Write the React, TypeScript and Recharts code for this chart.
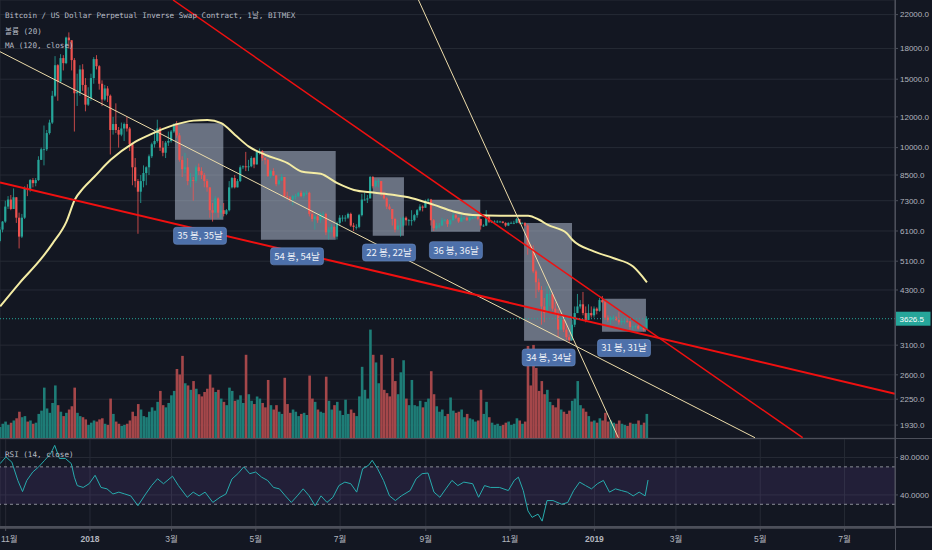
import React from 'react'
import {
  ComposedChart, LineChart, Bar, Line, XAxis, YAxis, CartesianGrid,
  ReferenceArea, ReferenceLine, ReferenceDot, Cell,
} from 'recharts'

const BG = '#131722'
const GRID = '#262a35'
const SEP = '#4c4f5a'
const UP = '#26a69a'
const DOWN = '#ef5350'
const VOL_UP = '#1e7d77'
const VOL_DOWN = '#a5474a'
const TEXT = '#b2b5be'

// x = days from 2018-01-01, 2-day candles starting 2017-10-28
const X0 = -65.1
const X1 = 582.5
const firstDay = -65
const step = 2
const firstOpen = 5750

const closes = [
  6150, 6450, 7050, 7350, 6950, 7450, 6600, 5900, 6600, 7850,
  7800, 8250, 8100, 8250, 9300, 9900, 9900, 10900, 11600, 13600,
  16300, 14800, 17000, 16500, 19200, 18900, 16800, 13800, 13900, 15900,
  14500, 12900, 13400, 15100, 16900, 16200, 14600, 13300, 14200, 13600,
  11100, 11500, 11100, 10800, 11200, 11500, 11200, 10200, 8900, 8200,
  7700, 8200, 8600, 8900, 9500, 10200, 10400, 11200, 10000, 9700,
  10300, 10400, 11000, 11450, 10750, 9300, 8800, 8900, 8200, 8250,
  8200, 8900, 8700, 8500, 8200, 7900, 6900, 6800, 7400, 6800,
  6900, 6750, 6900, 7900, 8350, 7900, 8200, 8900, 8950, 8900,
  8950, 9400, 9050, 9750, 9800, 9400, 9300, 8450, 8700, 8480,
  8050, 8230, 8400, 7500, 7450, 7350, 7500, 7500, 7650, 7500,
  7650, 7650, 6750, 6550, 6650, 6500, 6750, 6750, 6050, 6150,
  6250, 5900, 6400, 6600, 6600, 6600, 6750, 6300, 6250, 6250,
  6700, 7350, 7350, 7400, 8400, 7950, 8200, 8200, 7600, 7400,
  7050, 6950, 6550, 6150, 6300, 6300, 6600, 6500, 6500, 6500,
  6700, 6900, 7050, 7000, 7300, 7350, 6500, 6200, 6300, 6300,
  6500, 6500, 6350, 6500, 6700, 6600, 6450, 6600, 6600, 6500,
  6600, 6600, 6650, 6550, 6300, 6300, 6650, 6450, 6450, 6450,
  6450, 6450, 6400, 6300, 6400, 6400, 6400, 6550, 6400, 6400,
  6300, 5600, 5500, 4800, 4500, 4300, 3900, 3750, 4200, 4200,
  3850, 3750, 3400, 3600, 3400, 3250, 3200, 3500, 3750, 3900,
  3950, 3750, 3600, 3750, 3700, 3850, 3800, 4050, 4000, 3650,
  3600, 3650, 3650, 3600, 3550, 3580, 3580, 3570, 3450, 3460,
  3470, 3420, 3440, 3400, 3626.5,
]

const highs = [
  6250, 6470, 7300, 7500, 7550, 7850, 7450, 6800, 6750, 7950,
  8050, 8300, 8350, 8350, 9500, 10000, 11400, 11100, 11800, 14000,
  17200, 16400, 17400, 17300, 19300, 19800, 18900, 17000, 15500, 16300,
  16400, 15100, 14300, 15500, 17100, 17300, 16300, 14900, 14500, 14400,
  13700, 12000, 13000, 11300, 11600, 11600, 12000, 11300, 10200, 9400,
  8300, 8500, 9000, 8950, 9600, 10300, 11100, 11800, 11300, 10400,
  10400, 11000, 11100, 11550, 11700, 10900, 9500, 9700, 9400, 8600,
  8400, 9000, 9100, 8900, 8600, 8300, 7900, 7200, 7500, 7450,
  7100, 7200, 6950, 8200, 8400, 8500, 8300, 9000, 9000, 9750,
  9300, 9500, 9450, 9800, 9950, 9850, 9450, 9350, 8750, 8850,
  8500, 8280, 8550, 8400, 7700, 7500, 7550, 7600, 7700, 7750,
  7700, 7750, 7700, 6900, 6700, 6700, 6800, 6850, 6800, 6250,
  6350, 6300, 6450, 6700, 6700, 6700, 6800, 6800, 6400, 6350,
  6750, 7600, 7650, 7550, 8450, 8450, 8250, 8300, 8200, 7700,
  7450, 7150, 6950, 6600, 6500, 6600, 6650, 6650, 6550, 6900,
  6750, 6950, 7150, 7100, 7350, 7400, 7380, 6550, 6400, 6400,
  6600, 6550, 6550, 6550, 6800, 6750, 6600, 6750, 6650, 6650,
  6650, 6650, 6700, 6650, 6560, 6350, 6900, 6650, 6500, 6500,
  6500, 6480, 6460, 6420, 6420, 6450, 6480, 6600, 6550, 6420,
  6420, 6350, 5650, 5600, 4850, 4600, 4400, 4100, 4400, 4300,
  4250, 4000, 3850, 3650, 3620, 3500, 3300, 3600, 3900, 4200,
  4050, 4250, 3900, 3950, 3900, 3900, 3880, 4100, 4150, 4050,
  3700, 3680, 3700, 3680, 3780, 3620, 3620, 3650, 3580, 3480,
  3500, 3500, 3470, 3440, 3680,
]

const lows = [
  5700, 6050, 6400, 6950, 6900, 6950, 6400, 5500, 5850, 6550,
  7500, 7700, 7900, 7950, 8200, 9300, 9000, 9800, 10800, 11500,
  13500, 13200, 14700, 15800, 16400, 18000, 15800, 11000, 12800, 13600,
  14000, 12400, 12800, 13200, 14600, 15900, 14100, 12800, 13200, 13100,
  9600, 10800, 10900, 10000, 10700, 10400, 11000, 9800, 8000, 7900,
  6000, 7200, 7900, 8000, 8500, 9400, 10000, 10300, 9800, 9500,
  9400, 10100, 10300, 10900, 10600, 9200, 8400, 8600, 8000, 7900,
  7300, 8100, 8500, 8300, 7900, 7700, 6600, 6450, 6800, 6600,
  6550, 6650, 6700, 6850, 7850, 7850, 7900, 8150, 8800, 8700,
  8700, 8900, 8850, 9050, 9600, 9250, 9050, 8400, 8350, 8450,
  7950, 8000, 8200, 7450, 7350, 7250, 7100, 7350, 7450, 7450,
  7400, 7550, 6650, 6450, 6150, 6400, 6400, 6550, 5950, 5800,
  6050, 5850, 5800, 6300, 6450, 6450, 6550, 6250, 6100, 6150,
  6200, 6650, 7300, 7200, 7400, 7850, 7900, 7900, 7500, 7350,
  6950, 6900, 6300, 6050, 6150, 5900, 6250, 6300, 6300, 6300,
  6450, 6600, 6850, 6850, 7000, 7200, 6300, 6100, 6150, 6200,
  6280, 6450, 6250, 6300, 6480, 6550, 6400, 6450, 6500, 6480,
  6450, 6550, 6550, 6500, 6150, 6250, 6280, 6400, 6400, 6420,
  6400, 6420, 6380, 6250, 6280, 6380, 6350, 6380, 6350, 6350,
  6280, 5300, 5450, 4750, 4100, 4250, 3500, 3550, 3750, 3900,
  3800, 3700, 3250, 3380, 3350, 3200, 3150, 3180, 3450, 3750,
  3850, 3700, 3550, 3600, 3650, 3650, 3720, 3780, 3980, 3600,
  3560, 3500, 3580, 3580, 3500, 3500, 3520, 3540, 3400, 3390,
  3420, 3400, 3420, 3360, 3390,
]

// volume, billions of contracts
const volumes = [
  1.0, 1.3, 1.5, 1.2, 1.4, 1.6, 1.8, 2.4, 1.9, 2.0,
  1.5, 1.6, 1.3, 1.4, 2.2, 2.5, 4.6, 2.7, 2.3, 3.2,
  4.8, 3.0, 2.4, 2.0, 2.3, 2.6, 2.9, 4.6, 2.3, 2.0,
  1.9, 1.7, 1.2, 1.4, 1.6, 1.5, 1.7, 1.8, 1.3, 1.2,
  3.6, 2.2, 1.5, 1.3, 1.1, 1.2, 1.3, 1.6, 2.4, 2.0,
  3.1, 2.6, 2.0, 1.9, 2.4, 2.8, 2.5, 3.3, 4.3, 3.0,
  2.8, 3.2, 3.9, 4.3, 6.3, 5.8, 7.5, 5.0, 4.8, 4.4,
  5.2, 4.5, 4.0, 3.8, 4.2, 4.5, 5.8, 4.6, 4.2, 4.4,
  3.6, 3.3, 3.0, 4.6, 4.3, 3.4, 3.5, 3.9, 3.2, 7.6,
  4.0, 3.4, 3.1, 3.8, 3.6, 3.2, 2.8, 5.3, 3.0, 2.6,
  3.0, 2.4, 2.2, 5.5, 3.1, 2.3, 2.6, 2.4, 2.0, 2.2,
  2.3, 2.1, 5.7, 3.6, 3.3, 2.6, 2.4, 2.3, 5.6, 3.4,
  2.6, 3.0, 3.3, 2.5, 2.1, 3.5, 2.2, 2.6, 2.3, 2.0,
  3.8, 6.5, 4.4, 3.6, 9.9, 7.6, 6.9, 5.0, 7.6, 4.4,
  4.1, 3.8, 7.3, 5.2, 4.0, 6.0, 7.1, 3.6, 3.0, 5.3,
  3.0, 2.9, 3.4, 2.8, 3.3, 3.6, 6.1, 4.0, 2.9, 2.4,
  2.6, 2.0, 2.2, 3.7, 2.5, 2.3, 2.4, 2.6, 1.9, 2.2,
  1.8, 1.7, 1.5, 1.6, 4.4, 2.2, 3.3, 1.9, 1.4, 1.2,
  1.3, 1.1, 1.2, 1.4, 1.5, 1.2, 1.3, 1.8, 1.6, 1.3,
  1.5, 8.4, 4.8, 8.5, 6.4, 4.3, 5.2, 4.0, 4.4, 3.3,
  3.0, 2.8, 3.6, 2.6, 2.4, 2.2, 2.5, 3.4, 3.6, 5.2,
  3.0, 2.7, 2.4, 2.0, 1.5, 1.6, 1.4, 1.8, 1.6, 2.3,
  1.5, 1.6, 1.4, 1.3, 1.6, 1.3, 1.2, 1.1, 1.4, 1.3,
  1.3, 1.6, 1.2, 1.4, 2.2,
]

// MA(120, close)
const maDays = [-65, -51, -35, -27, -17, -11, -5, 3, 15, 31, 43, 61, 75, 85, 95, 105, 115, 127, 143, 153, 167, 179, 191, 205, 219, 233, 249, 263, 277, 297, 317, 325, 331, 345, 349, 365, 379, 393, 403]
const maValues = [3900, 4480, 5190, 5670, 6450, 7340, 7850, 8400, 9300, 10260, 10780, 11440, 11735, 11780, 11560, 10780, 10060, 9580, 9120, 8680, 8560, 8100, 7780, 7660, 7560, 7410, 7120, 6850, 6710, 6680, 6680, 6520, 6330, 6020, 5790, 5400, 5190, 4940, 4500]

// RSI(14, close)
const rsiDays = [-65, -60.8, -56.5, -52.2, -48.8, -45.7, -41.4, -37.1, -32.8, -28.5, -25.5, -22.1, -17.8, -13.5, -11.3, -9.2, -4.9, -0.6, 3.7, 8, 12.3, 16.6, 20.9, 25.2, 29.5, 34.7, 40.3, 44.6, 48.9, 53.2, 59.7, 64, 70.4, 74.7, 79, 83.3, 88.9, 94.1, 98.4, 102.7, 107, 111.3, 115.6, 119.9, 124.2, 128.5, 132.8, 137.1, 141.4, 145.7, 150, 154.3, 158.6, 162.9, 167.2, 171.5, 175.8, 180.1, 184.4, 188.7, 193, 197.3, 201.6, 204.2, 208.1, 212.4, 216.7, 221, 225.3, 231.7, 236, 240.3, 244.6, 248.9, 253.2, 257.5, 261.9, 266.2, 270.5, 276.9, 281.2, 285.5, 289.8, 296.3, 302.7, 307, 310, 313.5, 316.9, 319.9, 324.2, 327.2, 330.7, 335, 341.4, 345.7, 350, 354.3, 358.6, 362.9, 367.2, 371.5, 375.9, 380.2, 384.5, 388.8, 393.1, 397.4, 401.7, 403.8]
const rsiValues = [73.5, 80.7, 75, 55.5, 43.6, 55.5, 64.5, 70, 77, 84, 93, 79, 79, 73.5, 59, 50, 48, 52, 61, 48, 46.5, 41, 43, 41, 39, 28.5, 41, 50, 57.3, 52, 60, 50, 37.5, 43, 39, 43, 32, 37.5, 41, 57, 62.7, 70, 62.7, 64.5, 59, 55.5, 48, 46.5, 39, 32, 39, 46.5, 39, 28.5, 39, 32, 37.5, 50, 53.7, 52, 43, 68, 71.7, 77, 68, 55.5, 39, 34, 39, 44.7, 57.3, 62.7, 63.4, 43, 37.5, 46.5, 55.5, 50, 53.7, 52, 37.5, 50, 48, 48, 44.7, 55.5, 59, 44.7, 23, 16, 19.5, 12, 34, 34, 30, 32, 44.7, 53.7, 50, 46.5, 52, 55.5, 43, 46.5, 44.7, 43, 39, 43, 39, 56]

const monthTicks = [-61, 0, 59, 120, 181, 243, 304, 365, 424, 485, 546]
const monthLabels = ['11월', '2018', '3월', '5월', '7월', '9월', '11월', '2019', '3월', '5월', '7월']
const priceTicks = [22000, 18000, 15000, 12000, 10000, 8500, 7300, 6100, 5100, 4300, 3100, 2600, 2250, 1930]
const rsiTicks = [80, 40]
const lastPrice = 3626.5

// drawings: counted boxes and trend lines
const boxes = [
  { from: 61.5, to: 96.5, low: 6520, high: 11560, text: '35 봉, 35날', tx: 79.6, ty: 5927 },
  { from: 123.7, to: 177.8, low: 5790, high: 9800, text: '54 봉, 54날', tx: 149.8, ty: 5249 },
  { from: 204.6, to: 227.2, low: 5930, high: 8390, text: '22 봉, 22날', tx: 216.4, ty: 5369 },
  { from: 246.7, to: 282.4, low: 6069, high: 7340, text: '36 봉, 36날', tx: 264.8, ty: 5445 },
  { from: 314.1, to: 348.8, low: 3182, high: 6400, text: '34 봉, 34날', tx: 331.9, ty: 2882 },
  { from: 370.5, to: 402.3, low: 3356, high: 4081, text: '31 봉, 31날', tx: 386.4, ty: 3048 },
]

const trendLines = [
  { a: [-65.1, 17660], b: [481.2, 1791], color: '#eddcaa', width: 1 },
  { a: [237.7, 23989], b: [382.3, 1791], color: '#eddcaa', width: 1 },
  { a: [60.1, 23989], b: [515.7, 1791], color: '#f01010', width: 1.5 },
  { a: [-65.1, 8128], b: [582.5, 2325], color: '#f01010', width: 2 },
]

const rows = closes.map((c, i) => {
  const day = firstDay + i * step
  const mi = maDays.indexOf(day)
  return {
    day,
    open: i === 0 ? firstOpen : closes[i - 1],
    close: c,
    high: highs[i],
    low: lows[i],
    vol: volumes[i],
    ma: mi >= 0 ? maValues[mi] : null,
  }
})

const rsiRows = rsiDays.map((d, i) => ({ day: d, rsi: rsiValues[i] }))

const Candle = (props: any) => {
  const { x, y, width, height, payload } = props
  if (height == null || !payload) return null
  const { open, close, high, low } = payload
  const span = Math.log(high) - Math.log(low)
  const at = (p: number) => y + (span > 0 ? (height * (Math.log(high) - Math.log(p))) / span : 0)
  const color = close >= open ? UP : DOWN
  const cx = x + width / 2
  const top = at(Math.max(open, close))
  const bot = at(Math.min(open, close))
  return (
    <g>
      <line x1={cx} x2={cx} y1={y} y2={y + height} stroke={color} strokeWidth={0.8} />
      <rect x={cx - 1.1} y={top} width={2.2} height={Math.max(0.8, bot - top)} fill={color} />
    </g>
  )
}

const Callout = (props: any) => {
  const { cx, cy, text } = props
  if (cx == null) return null
  return (
    <g>
      <rect x={cx - 26.5} y={cy - 8.5} width={53} height={17} rx={3} fill="#4d70aa" stroke="#6a8bc2" strokeWidth={0.6} />
      <text x={cx} y={cy + 3.4} textAnchor="middle" fill="#eef1f7" fontSize={9.5} fontFamily="'Noto Sans CJK KR', 'Noto Sans', sans-serif">
        {text}
      </text>
    </g>
  )
}

const PriceTag = (props: any) => {
  const vb = props.viewBox
  if (!vb) return null
  const left = vb.x + vb.width + 0.5
  return (
    <g>
      <rect x={left} y={vb.y - 7} width={35} height={14} fill={UP} />
      <text x={left + 4} y={vb.y + 3} fill="#ffffff" fontSize={8} fontFamily="'Liberation Sans', Arial, sans-serif">
        {lastPrice.toFixed(1)}
      </text>
    </g>
  )
}

const MonthTick = (props: any) => {
  const { x, y, payload } = props
  const label = monthLabels[monthTicks.indexOf(payload.value)]
  const isYear = /^\d{4}$/.test(label)
  // keep the first label inside the left edge
  const nearEdge = x < 10
  return (
    <text x={nearEdge ? 1 : x} y={y + 11} textAnchor={nearEdge ? 'start' : 'middle'} fill={TEXT} fontSize={8.5}
      fontWeight={isYear ? 700 : 400} fontFamily="'Liberation Sans', 'Noto Sans CJK KR', sans-serif">
      {label}
    </text>
  )
}

const axisFont = { fill: TEXT, fontSize: 8, fontFamily: "'Liberation Sans', Arial, sans-serif" }
const mono: React.CSSProperties = {
  position: 'absolute', left: 5, fontFamily: "'DejaVu Sans Mono', 'Noto Sans CJK KR', monospace",
  fontSize: 7.6, lineHeight: '10px', color: '#b8bcc6', whiteSpace: 'nowrap', zIndex: 5,
}

export default function App() {
  return (
    <div style={{ position: 'absolute', left: 0, top: 0, width: 932, height: 550, background: BG, overflow: 'hidden' }}>
      <div style={{ position: 'absolute', left: 0, top: 0 }}>
        <ComposedChart width={932} height={438} data={rows} margin={{ top: 0, right: 0, bottom: 0, left: 0 }}>
          <CartesianGrid stroke={GRID} yAxisId="p" />
          <XAxis dataKey="day" type="number" domain={[X0, X1]} ticks={monthTicks} allowDataOverflow
            height={0} tick={false} axisLine={false} tickLine={false} />
          <XAxis xAxisId="vx" dataKey="day" type="number" domain={[X0, X1]} allowDataOverflow hide />
          <YAxis yAxisId="p" orientation="right" scale="log" domain={[1788, 23990]} ticks={priceTicks}
            allowDataOverflow width={37} tick={axisFont} tickSize={3} tickMargin={2} interval={0}
            tickFormatter={(v: number) => v.toFixed(1)} axisLine={{ stroke: SEP }} tickLine={{ stroke: SEP }} />
          <YAxis yAxisId="v" hide domain={[0, 40]} />

          {boxes.map((b) => (
            <ReferenceArea key={b.text} yAxisId="p" x1={b.from} x2={b.to} y1={b.low} y2={b.high}
              fill="#c0cce0" fillOpacity={0.5} stroke="none" ifOverflow="hidden" />
          ))}

          <Bar xAxisId="vx" yAxisId="v" dataKey="vol" barSize={2.6} isAnimationActive={false}>
            {rows.map((r) => (
              <Cell key={r.day} fill={r.close >= r.open ? VOL_UP : VOL_DOWN} />
            ))}
          </Bar>
          <Bar yAxisId="p" dataKey={(r: any) => [r.low, r.high]} barSize={2} shape={<Candle />} isAnimationActive={false} />
          <Line yAxisId="p" dataKey="ma" type="monotone" connectNulls stroke="#f4eca4" strokeWidth={2}
            dot={false} activeDot={false} isAnimationActive={false} />

          {trendLines.map((t, i) => (
            <ReferenceLine key={i} yAxisId="p" ifOverflow="hidden" stroke={t.color} strokeWidth={t.width}
              segment={[{ x: t.a[0], y: t.a[1] }, { x: t.b[0], y: t.b[1] }]} />
          ))}
          <ReferenceLine yAxisId="p" y={lastPrice} stroke={UP} strokeDasharray="1 2" strokeWidth={1}
            ifOverflow="visible" label={<PriceTag />} />

          {boxes.map((b) => (
            <ReferenceDot key={'l' + b.text} yAxisId="p" x={b.tx} y={b.ty} r={1} ifOverflow="visible"
              shape={(p: any) => <Callout {...p} text={b.text} />} />
          ))}
        </ComposedChart>
      </div>

      <div style={{ position: 'absolute', left: 0, top: 439 }}>
        <LineChart width={932} height={111} data={rsiRows} margin={{ top: 0, right: 0, bottom: 0, left: 0 }}>
          <CartesianGrid stroke={GRID} />
          <ReferenceArea y1={30} y2={70} fill="#7e57c2" fillOpacity={0.14} stroke="none" />
          <ReferenceLine y={70} stroke="#8a8d97" strokeDasharray="3 3" />
          <ReferenceLine y={30} stroke="#8a8d97" strokeDasharray="3 3" />
          <XAxis dataKey="day" type="number" domain={[X0, X1]} ticks={monthTicks} allowDataOverflow height={22}
            interval={0} tick={<MonthTick />} tickSize={3} tickMargin={0}
            axisLine={{ stroke: SEP, strokeWidth: 1.5 }} tickLine={{ stroke: SEP }} />
          <YAxis orientation="right" domain={[4.65, 99.8]} ticks={rsiTicks} allowDataOverflow width={37}
            tick={axisFont} tickSize={3} tickMargin={2} tickFormatter={(v: number) => v.toFixed(4)}
            axisLine={{ stroke: SEP }} tickLine={{ stroke: SEP }} />
          <Line dataKey="rsi" type="linear" stroke="#27abad" strokeWidth={1} dot={false} activeDot={false} isAnimationActive={false} />
        </LineChart>
      </div>

      <div style={{ position: 'absolute', left: 0, top: 437.5, width: 932, height: 1.5, background: SEP }} />
      <div style={{ position: 'absolute', left: 0, top: 526.2, width: 932, height: 1.5, background: SEP }} />
      <div style={{ position: 'absolute', left: 895, top: 0, width: 1, height: 550, background: SEP }} />

      <div style={{ ...mono, top: 11 }}>Bitcoin / US Dollar Perpetual Inverse Swap Contract, 1날, BITMEX</div>
      <div style={{ ...mono, top: 26.5 }}>볼륨 (20)</div>
      <div style={{ ...mono, top: 41 }}>MA (120, close)</div>
      <div style={{ ...mono, top: 450 }}>RSI (14, close)</div>
    </div>
  )
}
